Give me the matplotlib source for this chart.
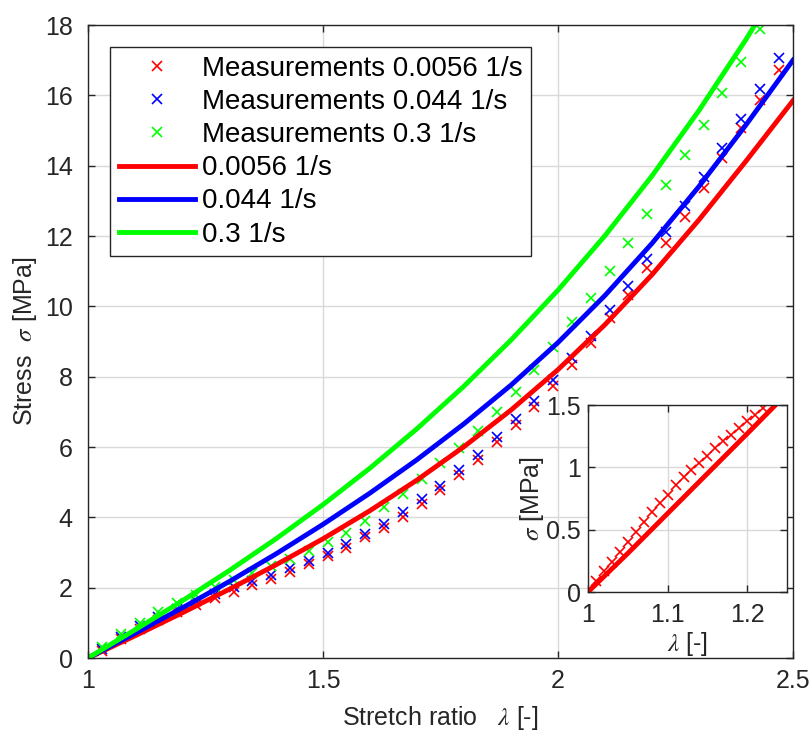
import matplotlib

matplotlib.use("Agg")
import matplotlib.pyplot as plt

lam_meas = [1.03, 1.07, 1.11, 1.15, 1.19, 1.23, 1.27, 1.31, 1.35, 1.39, 1.43, 1.47, 1.51,
            1.55, 1.59, 1.63, 1.67, 1.71, 1.75, 1.79, 1.83, 1.87, 1.91, 1.95, 1.99, 2.03,
            2.07, 2.11, 2.15, 2.19, 2.23, 2.27, 2.31, 2.35, 2.39, 2.43, 2.47]
sig_meas_slow = [0.21, 0.53, 0.82, 1.09, 1.30, 1.50, 1.70, 1.89, 2.08, 2.24, 2.45, 2.67, 2.90,
                 3.12, 3.43, 3.69, 4.02, 4.38, 4.78, 5.20, 5.63, 6.15, 6.62, 7.15, 7.73, 8.33,
                 8.97, 9.66, 10.32, 11.08, 11.81, 12.55, 13.36, 14.21, 15.06, 15.87, 16.72]
sig_meas_mid = [0.26, 0.60, 0.90, 1.18, 1.40, 1.62, 1.82, 2.01, 2.20, 2.36, 2.55, 2.77, 2.99,
                3.24, 3.53, 3.81, 4.16, 4.51, 4.89, 5.35, 5.77, 6.28, 6.79, 7.32, 7.90, 8.52,
                9.16, 9.90, 10.58, 11.34, 12.10, 12.86, 13.67, 14.49, 15.33, 16.17, 17.05]
sig_meas_fast = [0.30, 0.68, 1.00, 1.30, 1.55, 1.80, 2.02, 2.22, 2.42, 2.62, 2.82, 3.04, 3.30,
                 3.56, 3.90, 4.28, 4.66, 5.08, 5.55, 5.98, 6.45, 7.00, 7.55, 8.19, 8.85, 9.56,
                 10.24, 11.01, 11.81, 12.62, 13.45, 14.30, 15.15, 16.06, 16.95, 17.90]

# model curves
lam_model = [1.0, 1.1, 1.2, 1.3, 1.4, 1.5, 1.6, 1.7, 1.8, 1.9, 2.0, 2.1, 2.2, 2.3, 2.4, 2.5]
sig_model_slow = [0.0, 0.63, 1.28, 1.95, 2.65, 3.39, 4.19, 5.06, 6.01, 7.05, 8.20, 9.48,
                  10.90, 12.46, 14.13, 15.85]
sig_model_mid = [0.0, 0.70, 1.42, 2.17, 2.96, 3.80, 4.69, 5.64, 6.66, 7.76, 8.97, 10.31,
                 11.79, 13.41, 15.16, 17.00]
sig_model_fast = [0.0, 0.80, 1.62, 2.48, 3.39, 4.36, 5.40, 6.52, 7.73, 9.04, 10.46, 12.01,
                  13.71, 15.57, 17.59, 19.77]

# inset: dense small-strain measurements at 0.0056 1/s
lam_small = [1.00, 1.01, 1.02, 1.03, 1.04, 1.05, 1.06, 1.07, 1.08, 1.09, 1.10, 1.11, 1.12,
             1.13, 1.14, 1.15, 1.16, 1.17, 1.18, 1.19, 1.20, 1.21, 1.22]
sig_small = [0.0, 0.086, 0.167, 0.242, 0.323, 0.403, 0.484, 0.565, 0.640, 0.712, 0.780,
             0.855, 0.919, 0.981, 1.035, 1.094, 1.156, 1.210, 1.263, 1.317, 1.371, 1.419, 1.478]
lam_small_model = [1.0, 1.05, 1.10, 1.15, 1.20, 1.234]
sig_small_model = [0.0, 0.31, 0.63, 0.95, 1.27, 1.49]

RED = (1, 0, 0)
BLUE = (0, 0, 1)
GREEN = (0, 1, 0)
AXC = (0.15, 0.15, 0.15)

plt.rcParams["font.family"] = ["Liberation Sans", "DejaVu Sans"]
plt.rcParams["mathtext.fontset"] = "stix"
plt.rcParams["font.size"] = 18


def style_axes(ax):
    ax.grid(True, color=(0.85, 0.85, 0.85), linewidth=1.0)
    ax.set_axisbelow(True)
    for sp in ax.spines.values():
        sp.set_color(AXC)
        sp.set_linewidth(1.0)
    ax.tick_params(direction="in", top=True, right=True, length=5, width=1.0,
                   colors=AXC, labelcolor=AXC, labelsize=18, pad=8)


fig = plt.figure(figsize=(8.1, 7.38), dpi=100)
ax = fig.add_axes([0.1086, 0.1084, 0.8704, 0.8577])
style_axes(ax)
ax.tick_params(axis="y", pad=11)

mk = dict(linestyle="none", marker="x", markersize=7, markeredgewidth=1.2)
ax.plot(lam_meas, sig_meas_slow, color=RED, label="Measurements 0.0056 1/s", **mk)
ax.plot(lam_meas, sig_meas_mid, color=BLUE, label="Measurements 0.044 1/s", **mk)
ax.plot(lam_meas[:len(sig_meas_fast)], sig_meas_fast, color=GREEN,
        label="Measurements 0.3 1/s", **mk)
ax.plot(lam_model, sig_model_slow, color=RED, lw=3.5, label="0.0056 1/s")
ax.plot(lam_model, sig_model_mid, color=BLUE, lw=3.5, label="0.044 1/s")
ax.plot(lam_model, sig_model_fast, color=GREEN, lw=3.5, label="0.3 1/s")

ax.set_xlim(1, 2.5)
ax.set_ylim(0, 18)
ax.set_xticks([1, 1.5, 2, 2.5])
ax.set_xticklabels(["1", "1.5", "2", "2.5"])
ax.set_yticks(range(0, 19, 2))
ax.set_xlabel(r"Stretch ratio   $\lambda$ [-]", color=AXC, labelpad=8)
ax.set_ylabel(r"Stress  $\sigma$ [MPa]", color=AXC, labelpad=4)

leg = ax.legend(loc="upper left", borderaxespad=0.8, handlelength=2.77, handletextpad=0.25,
                labelspacing=0.26, fancybox=False, framealpha=1, edgecolor=AXC,
                borderpad=0.3, fontsize=20)
leg.get_frame().set_linewidth(1.0)

# inset
ins = fig.add_axes([0.7259, 0.1978, 0.2457, 0.2534])
style_axes(ins)
ins.tick_params(axis="y", pad=5)
ins.set_facecolor("white")
ins.plot(lam_small, sig_small, color=RED, **mk)
ins.plot(lam_small_model, sig_small_model, color=RED, lw=3.5)
ins.set_xlim(1, 1.25)
ins.set_ylim(0, 1.5)
ins.set_xticks([1, 1.1, 1.2])
ins.set_xticklabels(["1", "1.1", "1.2"])
ins.set_yticks([0, 0.5, 1, 1.5])
ins.set_yticklabels(["0", "0.5", "1", "1.5"])
ins.set_xlabel(r"$\lambda$ [-]", color=AXC, labelpad=2)
ins.set_ylabel(r"$\sigma$ [MPa]", color=AXC, labelpad=0)

fig.savefig("out.png", dpi=100)
